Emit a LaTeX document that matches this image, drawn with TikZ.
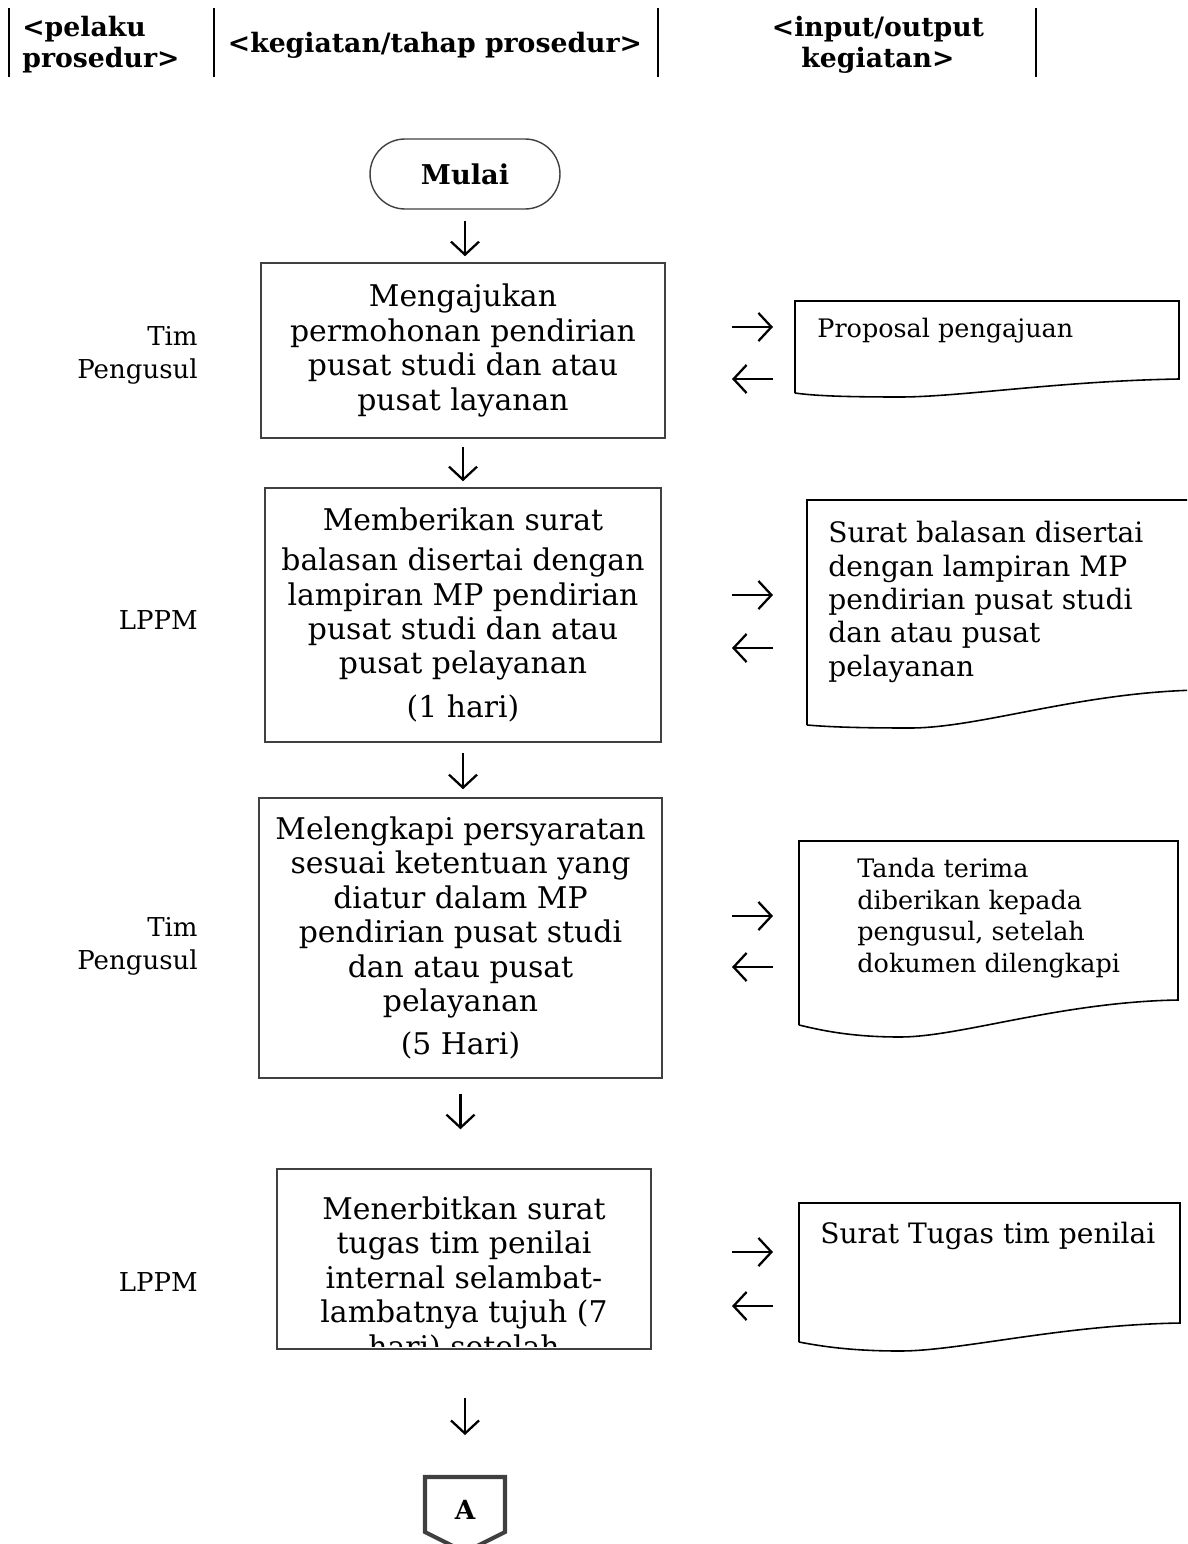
\documentclass[tikz,border=0pt]{standalone}
\usepackage{fontspec}
\setmainfont{DejaVu Serif}
\usepackage{xcolor}
\usetikzlibrary{arrows.meta,calc}
\definecolor{garis}{HTML}{404040}

\tikzset{
  kepala/.style={font=\bfseries\fontsize{15.2}{17.5}\selectfont, inner sep=0pt},
  mulaibox/.style={draw=garis, line width=0.8pt, rounded corners=0.7cm, minimum width=3.8cm, minimum height=1.4cm, font=\bfseries\fontsize{15.5}{18}\selectfont},
  langkah/.style={draw=garis, line width=0.9pt, align=center, inner sep=0pt, font=\fontsize{17}{19.6}\selectfont},
  pelaku/.style={align=right, anchor=east, inner sep=0pt, font=\fontsize{14.8}{18.7}\selectfont},
  dokumen/.style={draw=black, line width=0.9pt},
  isibesar/.style={align=left, inner sep=0pt, font=\fontsize{16}{19}\selectfont},
  isikecil/.style={align=left, inner sep=0pt, font=\fontsize{14.5}{18}\selectfont},
  alir/.style={-{Straight Barb[length=0.26cm,width=0.56cm]}, line width=1.3pt},
}

\begin{document}
\begin{tikzpicture}[x=0.02cm,y=-0.02cm]
  \useasboundingbox (0,0) rectangle (1187,1544);
  \begin{scope}
  \clip (0,0) rectangle (1187,1544);

  % kepala kolom
  \draw[line width=1.1pt] (9,8) -- (9,77);
  \draw[line width=1.1pt] (214,8) -- (214,77);
  \draw[line width=1.1pt] (658,8) -- (658,77);
  \draw[line width=1.1pt] (1036,8) -- (1036,77);
  \node[kepala, align=left, anchor=west] (hPelaku) at (22,45) {<pelaku\\prosedur>};
  \node[kepala] (hKegiatan) at (435,45) {<kegiatan/tahap prosedur>};
  \node[kepala, align=center] (hIO) at (878,45) {<input/output\\kegiatan>};

  % alur kegiatan
  \node[mulaibox] (mulai) at (465,174) {Mulai};
  \node[langkah, minimum width=8.08cm, minimum height=3.5cm] (ajukan) at (463,350.5)
    {Mengajukan\\permohonan pendirian\\pusat studi dan atau\\pusat layanan};
  \node[langkah, minimum width=7.92cm, minimum height=5.08cm] (balas) at (463,615)
    {Memberikan surat\\[3pt]balasan disertai dengan\\lampiran MP pendirian\\pusat studi dan atau\\pusat pelayanan\\[5pt](1 hari)};
  \node[langkah, minimum width=8.06cm, minimum height=5.6cm] (lengkap) at (460.5,938)
    {Melengkapi persyaratan\\sesuai ketentuan yang\\diatur dalam MP\\pendirian pusat studi\\dan atau pusat\\pelayanan\\[5pt](5 Hari)};
  \node[langkah, minimum width=7.48cm, minimum height=3.6cm] (tugas) at (464,1259) {};
  \begin{scope}
    \clip ([yshift=0.06cm]tugas.south west) rectangle (tugas.north east);
    \node[langkah, draw=none, anchor=north] (tugasTeks) at (464,1196)
      {Menerbitkan surat\\tugas tim penilai\\internal selambat-\\lambatnya tujuh (7\\hari) setelah};
  \end{scope}

  % penghubung halaman
  \coordinate (keA) at (465,1477);
  \draw[draw=garis, line width=2.3pt] (425,1477) -- (505,1477) -- (505,1532) -- (465,1552) -- (425,1532) -- cycle;
  \node[font=\bfseries\fontsize{15}{17}\selectfont] (sambungA) at (465,1510) {A};

  \draw[alir, shorten <=0.22cm, shorten >=0.12cm] (mulai.south) -- (mulai.south |- ajukan.north);
  \draw[alir, shorten <=0.16cm, shorten >=0.12cm] (ajukan.south) -- (ajukan.south |- balas.north);
  \draw[alir, shorten <=0.2cm, shorten >=0.16cm] (balas.south) -- (balas.south |- lengkap.north);
  \draw[alir, shorten <=0.3cm, shorten >=0.78cm] (lengkap.south) -- (lengkap.south |- tugas.north);
  \draw[alir, shorten <=0.96cm, shorten >=0.84cm] (keA |- tugas.south) -- (keA);

  % pelaku
  \node[pelaku] (p1) at (198,355) {Tim\\Pengusul};
  \node[pelaku] (p2) at (198,620) {LPPM};
  \node[pelaku] (p3) at (198,946) {Tim\\Pengusul};
  \node[pelaku] (p4) at (198,1282) {LPPM};

  % dokumen input/output
  \draw[dokumen] (795,393) -- (795,301) -- (1179,301) -- (1179,379)
    .. controls (1060,381) and (960,397) .. (900,397) .. controls (850,397) and (815,396) .. (795,393);
  \node[isikecil, anchor=base west] (d1) at (817,337) {Proposal pengajuan};

  \draw[dokumen] (807,725) -- (807,500) -- (1200,500) -- (1200,690)
    .. controls (1080,692) and (980,728) .. (910,728) .. controls (860,728) and (830,727) .. (807,725);
  \node[isibesar, anchor=north west] (d2) at (828,521)
    {Surat balasan disertai\\dengan lampiran MP\\pendirian pusat studi\\dan atau pusat\\pelayanan};

  \draw[dokumen] (799,1025) -- (799,841) -- (1178,841) -- (1178,1000)
    .. controls (1060,1002) and (960,1037) .. (900,1037) .. controls (850,1037) and (820,1030) .. (799,1025);
  \node[isikecil, anchor=north west] (d3) at (857,858)
    {Tanda terima\\diberikan kepada\\pengusul, setelah\\dokumen dilengkapi};

  \draw[dokumen] (799,1342) -- (799,1203) -- (1180,1203) -- (1180,1323)
    .. controls (1060,1325) and (960,1351) .. (900,1351) .. controls (850,1351) and (820,1346) .. (799,1342);
  \node[isibesar, anchor=base west] (d4) at (820,1243) {Surat Tugas tim penilai};

  % panah masuk/keluar
  \coordinate (masuk1) at (732,327);  \coordinate (keluar1) at (773,379);
  \coordinate (masuk2) at (732,595);  \coordinate (keluar2) at (773,648);
  \coordinate (masuk3) at (732,916);  \coordinate (keluar3) at (773,967);
  \coordinate (masuk4) at (732,1252); \coordinate (keluar4) at (773,1306);
  \draw[alir] (masuk1) -- ++(41,0);
  \draw[alir] (keluar1) -- ++(-41,0);
  \draw[alir] (masuk2) -- ++(41,0);
  \draw[alir] (keluar2) -- ++(-41,0);
  \draw[alir] (masuk3) -- ++(41,0);
  \draw[alir] (keluar3) -- ++(-41,0);
  \draw[alir] (masuk4) -- ++(41,0);
  \draw[alir] (keluar4) -- ++(-41,0);
  \end{scope}
\end{tikzpicture}
\end{document}
